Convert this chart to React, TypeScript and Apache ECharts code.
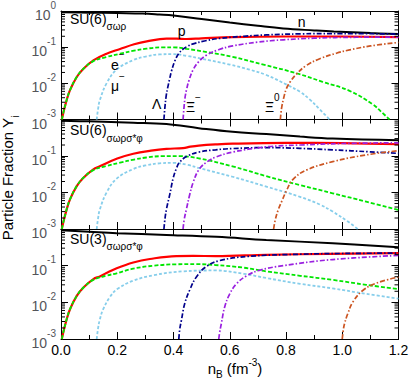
import React, { useEffect, useRef } from "react";
import * as echarts from "echarts";

const FONT = "'Liberation Sans', Arial, Helvetica, sans-serif";

// ---------- axes ----------
const xMin = 0;
const xMax = 1.2;
const xInterval = 0.2;
const yMin = 0.001;
const yMax = 1;
const yMinorTicks = [
  0.002, 0.003, 0.004, 0.005, 0.006, 0.007, 0.008, 0.009,
  0.02, 0.03, 0.04, 0.05, 0.06, 0.07, 0.08, 0.09,
  0.2, 0.3, 0.4, 0.5, 0.6, 0.7, 0.8, 0.9,
];

// ---------- panel titles ----------
const panelBase = ["SU(6)", "SU(6)", "SU(3)"];
const panelSub = ["σωρ", "σωρσ*φ", "σωρσ*φ"];

// ---------- data: top panel SU(6) σωρ ----------
const nA = [[0, 0.92], [0.1, 0.9], [0.2, 0.875], [0.29, 0.85], [0.35, 0.8], [0.4, 0.75], [0.5, 0.6], [0.6, 0.48], [0.7, 0.39], [0.79, 0.33], [0.9, 0.29], [0.97, 0.27], [1.1, 0.245], [1.2, 0.23]];
const pA = [[0.003, 0.001], [0.008, 0.0015], [0.02, 0.0034], [0.032, 0.0065], [0.056, 0.015], [0.079, 0.025], [0.115, 0.043], [0.16, 0.065], [0.21, 0.089], [0.26, 0.12], [0.305, 0.145], [0.375, 0.172], [0.41, 0.172], [0.447, 0.168], [0.5, 0.176], [0.61, 0.19], [0.8, 0.197], [1.0, 0.197], [1.2, 0.19]];
const eA = [[0.003, 0.001], [0.008, 0.0015], [0.02, 0.0034], [0.032, 0.0065], [0.056, 0.015], [0.079, 0.025], [0.115, 0.041], [0.16, 0.053], [0.21, 0.066], [0.26, 0.08], [0.304, 0.091], [0.36, 0.099], [0.4, 0.099], [0.446, 0.09], [0.52, 0.073], [0.61, 0.054], [0.72, 0.033], [0.837, 0.019], [0.93, 0.011], [1.026, 0.0062], [1.109, 0.0026], [1.14, 0.0016], [1.168, 0.001]];
const muA = [[0.127, 0.001], [0.132, 0.002], [0.138, 0.0034], [0.162, 0.01], [0.198, 0.024], [0.257, 0.044], [0.3, 0.055], [0.35, 0.063], [0.4, 0.064], [0.45, 0.057], [0.494, 0.049], [0.6, 0.033], [0.67, 0.024], [0.73, 0.017], [0.807, 0.0088], [0.85, 0.0058], [0.884, 0.0036], [0.92, 0.0019], [0.955, 0.001]];
const lamA = [[0.366, 0.001], [0.369, 0.002], [0.374, 0.0045], [0.38, 0.008], [0.386, 0.013], [0.393, 0.022], [0.405, 0.042], [0.418, 0.066], [0.434, 0.088], [0.45, 0.106], [0.47, 0.123], [0.51, 0.148], [0.564, 0.175], [0.65, 0.2], [0.73, 0.218], [0.85, 0.233], [1.0, 0.238], [1.2, 0.23]];
const ximA = [[0.434, 0.001], [0.437, 0.002], [0.441, 0.004], [0.446, 0.0065], [0.455, 0.012], [0.47, 0.024], [0.49, 0.04], [0.517, 0.06], [0.56, 0.085], [0.61, 0.108], [0.7, 0.138], [0.79, 0.16], [0.9, 0.177], [1.05, 0.188], [1.2, 0.19]];
const xi0A = [[0.78, 0.001], [0.784, 0.002], [0.792, 0.004], [0.801, 0.007], [0.815, 0.011], [0.837, 0.018], [0.872, 0.031], [0.92, 0.048], [0.979, 0.068], [1.026, 0.084], [1.1, 0.108], [1.2, 0.135]];

// ---------- data: middle panel SU(6) σωρσ*φ ----------
const nB = [[0, 0.92], [0.1, 0.89], [0.257, 0.82], [0.375, 0.75], [0.49, 0.58], [0.61, 0.46], [0.73, 0.4], [0.85, 0.34], [0.966, 0.3], [1.2, 0.27]];
const pB = [[0.003, 0.001], [0.008, 0.0015], [0.02, 0.0034], [0.032, 0.0065], [0.056, 0.015], [0.079, 0.025], [0.115, 0.043], [0.138, 0.052], [0.2, 0.085], [0.257, 0.115], [0.32, 0.14], [0.375, 0.157], [0.434, 0.165], [0.46, 0.18], [0.49, 0.193], [0.55, 0.208], [0.61, 0.218], [0.8, 0.228], [1.0, 0.225], [1.2, 0.21]];
const eB = [[0.003, 0.001], [0.008, 0.0015], [0.02, 0.0034], [0.032, 0.0065], [0.056, 0.015], [0.079, 0.025], [0.115, 0.041], [0.16, 0.053], [0.21, 0.066], [0.26, 0.08], [0.304, 0.091], [0.36, 0.099], [0.42, 0.099], [0.49, 0.086], [0.61, 0.052], [0.73, 0.028], [0.85, 0.016], [0.966, 0.0095], [1.085, 0.0056], [1.2, 0.0033]];
const muB = [[0.127, 0.001], [0.132, 0.002], [0.138, 0.0034], [0.162, 0.01], [0.198, 0.024], [0.257, 0.044], [0.3, 0.055], [0.35, 0.063], [0.4, 0.065], [0.45, 0.057], [0.49, 0.047], [0.61, 0.027], [0.73, 0.0145], [0.85, 0.0076], [0.92, 0.0047], [0.966, 0.003], [1.02, 0.0016], [1.055, 0.001]];
const lamB = [[0.366, 0.001], [0.37, 0.002], [0.375, 0.0035], [0.387, 0.009], [0.399, 0.025], [0.41, 0.045], [0.422, 0.068], [0.45, 0.1], [0.49, 0.128], [0.55, 0.148], [0.61, 0.16], [0.73, 0.17], [0.85, 0.162], [0.966, 0.147], [1.1, 0.13], [1.2, 0.118]];
const ximB = [[0.434, 0.001], [0.438, 0.0018], [0.446, 0.0035], [0.458, 0.009], [0.47, 0.019], [0.49, 0.042], [0.52, 0.07], [0.553, 0.095], [0.61, 0.128], [0.73, 0.178], [0.85, 0.2], [1.0, 0.22], [1.2, 0.23]];
const xi0B = [[0.756, 0.001], [0.762, 0.0018], [0.772, 0.0033], [0.786, 0.006], [0.801, 0.011], [0.825, 0.023], [0.872, 0.041], [0.966, 0.07], [1.085, 0.107], [1.2, 0.14]];

// ---------- data: bottom panel SU(3) σωρσ*φ ----------
const nC = [[0, 0.92], [0.1, 0.84], [0.198, 0.77], [0.375, 0.69], [0.553, 0.61], [0.73, 0.5], [0.966, 0.41], [1.2, 0.32]];
const pC = [[0.003, 0.001], [0.008, 0.0015], [0.02, 0.0034], [0.032, 0.0065], [0.056, 0.015], [0.079, 0.025], [0.115, 0.043], [0.138, 0.051], [0.16, 0.062], [0.198, 0.085], [0.257, 0.122], [0.316, 0.152], [0.41, 0.183], [0.47, 0.185], [0.55, 0.182], [0.73, 0.198], [0.95, 0.21], [1.2, 0.22]];
const eC = [[0.003, 0.001], [0.008, 0.0015], [0.02, 0.0034], [0.032, 0.0065], [0.056, 0.015], [0.079, 0.025], [0.115, 0.041], [0.16, 0.053], [0.198, 0.062], [0.257, 0.083], [0.33, 0.1], [0.41, 0.109], [0.48, 0.11], [0.55, 0.104], [0.65, 0.088], [0.73, 0.07], [0.85, 0.053], [0.966, 0.041], [1.085, 0.03], [1.2, 0.023]];
const muC = [[0.127, 0.001], [0.132, 0.002], [0.138, 0.0034], [0.15, 0.0065], [0.174, 0.014], [0.2, 0.023], [0.257, 0.039], [0.33, 0.055], [0.434, 0.07], [0.55, 0.074], [0.65, 0.06], [0.73, 0.046], [0.85, 0.032], [0.966, 0.024], [1.085, 0.017], [1.2, 0.0126]];
const lamC = [[0.419, 0.001], [0.422, 0.0018], [0.428, 0.0032], [0.44, 0.0093], [0.458, 0.022], [0.482, 0.05], [0.517, 0.095], [0.565, 0.138], [0.67, 0.18], [0.85, 0.205], [1.0, 0.215], [1.2, 0.22]];
const ximC = [[0.561, 0.001], [0.564, 0.0015], [0.57, 0.0026], [0.582, 0.0075], [0.6, 0.017], [0.624, 0.032], [0.66, 0.053], [0.706, 0.075], [0.79, 0.1], [0.966, 0.147], [1.2, 0.19]];
const xi0C = [[1.0, 0.001], [1.003, 0.0016], [1.008, 0.0026], [1.02, 0.005], [1.038, 0.0103], [1.073, 0.021], [1.12, 0.033], [1.2, 0.049]];

const panels = [
  [nA, pA, eA, muA, lamA, ximA, xi0A],
  [nB, pB, eB, muB, lamB, ximB, xi0B],
  [nC, pC, eC, muC, lamC, ximC, xi0C],
];

const speciesNames = ["n", "p", "e−", "μ−", "Λ", "Ξ−", "Ξ0"];
const speciesStyles = [
  { color: "#000000", width: 2, type: "solid" as any },
  { color: "#ff0000", width: 2.2, type: "solid" as any },
  { color: "#00e600", width: 1.8, type: [4, 2] as any },
  { color: "#87ceeb", width: 1.8, type: [3, 2] as any },
  { color: "#00008b", width: 1.7, type: [5, 2, 1.5, 2] as any },
  { color: "#9a20e0", width: 1.7, type: [5, 2, 1.5, 2] as any },
  { color: "#cc5522", width: 1.7, type: [5, 2, 1.5, 2] as any },
];

const gridTops = [10, 119.5, 229];
const gridHeights = [109.5, 109.5, 110];

function txt(text: string, x: number, y: number, rich?: any, align = "left") {
  return {
    type: "text",
    x,
    y,
    z: 100,
    style: {
      text,
      fontSize: 14,
      fontFamily: FONT,
      fill: "#000",
      align,
      verticalAlign: "middle",
      rich,
    },
  };
}

const supRich = {
  a: { fontSize: 14, fontFamily: FONT, lineHeight: 22, verticalAlign: "bottom", fill: "#000" },
  s: { fontSize: 10, fontFamily: FONT, lineHeight: 10, verticalAlign: "top", fill: "#000" },
};
const subRich = {
  a: { fontSize: 14, fontFamily: FONT, lineHeight: 20, verticalAlign: "top", fill: "#000" },
  d: { fontSize: 10, fontFamily: FONT, lineHeight: 10, verticalAlign: "bottom", fill: "#000" },
};

export default function App() {
  const ref = useRef<HTMLDivElement>(null);
  useEffect(() => {
    const chart = echarts.init(ref.current!, null, { renderer: "svg" });

    const grid: any[] = [];
    const xAxis: any[] = [];
    const yAxis: any[] = [];
    const series: any[] = [];

    for (let i = 0; i < 3; i++) {
      grid.push({ left: 61, right: 18.5, top: gridTops[i], height: gridHeights[i] });
      const isBottom = i === 2;
      for (const pos of ["bottom", "top"]) {
        xAxis.push({
          type: "value",
          gridIndex: i,
          position: pos,
          min: xMin,
          max: xMax,
          interval: xInterval,
          axisLine: { show: true, onZero: false, lineStyle: { color: "#000", width: 1 } },
          axisTick: { show: true, inside: true, length: 7, lineStyle: { color: "#000" } },
          minorTick: { show: true, splitNumber: 2, length: 4, lineStyle: { color: "#000" } },
          splitLine: { show: false },
          axisLabel: {
            show: isBottom && pos === "bottom",
            formatter: (v: number) => v.toFixed(1),
            fontSize: 14,
            fontFamily: FONT,
            color: "#000",
            margin: 4,
          },
        });
      }
      for (const pos of ["left", "right"]) {
        yAxis.push({
          type: "log",
          logBase: 10,
          gridIndex: i,
          position: pos,
          min: yMin,
          max: yMax,
          axisLine: { show: true, onZero: false, lineStyle: { color: "#000", width: 1 } },
          axisTick: { show: true, inside: true, length: 7, lineStyle: { color: "#000" } },
          splitLine: { show: false },
          axisLabel: {
            show: pos === "left",
            margin: 5,
            formatter: (v: number) => {
              const e = Math.round(Math.log10(v));
              if (e === 0 && i !== 0) return "";
              return `{a|10}{s|${e === 0 ? "0" : "-" + -e}}`;
            },
            rich: supRich,
          },
        });
      }
      panels[i].forEach((data, k) => {
        const st = speciesStyles[k];
        series.push({
          type: "line",
          name: speciesNames[k] + " " + i,
          xAxisIndex: 2 * i,
          yAxisIndex: 2 * i,
          data,
          showSymbol: false,
          symbol: "none",
          smooth: 0.4,
          lineStyle: { color: st.color, width: st.width, type: st.type },
          z: k === 1 ? 3 : 4,
        });
      });
      series.push({
        type: "custom",
        xAxisIndex: 2 * i,
        yAxisIndex: 2 * i,
        clip: false,
        silent: true,
        z: 10,
        data: yMinorTicks.map((v) => [xMin, v]),
        encode: { x: 0, y: 1 },
        renderItem: (params: any, api: any) => {
          const v = api.value(1);
          const pL = api.coord([xMin, v]);
          const pR = api.coord([xMax, v]);
          return {
            type: "group",
            children: [
              { type: "line", shape: { x1: pL[0], y1: pL[1], x2: pL[0] + 4, y2: pL[1] }, style: { stroke: "#000", lineWidth: 1 } },
              { type: "line", shape: { x1: pR[0], y1: pR[1], x2: pR[0] - 4, y2: pR[1] }, style: { stroke: "#000", lineWidth: 1 } },
            ],
          };
        },
      });
    }

    const titleYs = [21.7, 133.3, 241.7];
    const graphic: any[] = [];
    for (let i = 0; i < 3; i++) {
      graphic.push(txt(`{a|${panelBase[i]}}{d|${panelSub[i]}}`, 70, titleYs[i], subRich));
    }
    graphic.push(txt("n", 301.7, 21.7, undefined, "center"));
    graphic.push(txt("p", 181.7, 30.5, undefined, "center"));
    graphic.push(txt("{a|e}{s|−}", 111, 60.5, supRich));
    graphic.push(txt("{a|μ}{s|−}", 111, 82, supRich));
    graphic.push(txt("Λ", 156.7, 104, undefined, "center"));
    graphic.push(txt("{a|Ξ}{s|−}", 186, 103, supRich));
    graphic.push(txt("{a|Ξ}{s|0}", 265, 103, supRich));
    // axis titles
    graphic.push({
      type: "text",
      x: 10,
      y: 178,
      rotation: Math.PI / 2,
      z: 100,
      style: {
        text: "{a|Particle Fraction Y}{d|i}",
        align: "center",
        verticalAlign: "middle",
        rich: {
          a: { fontSize: 15, fontFamily: FONT, lineHeight: 20, verticalAlign: "top", fill: "#000" },
          d: { fontSize: 10, fontFamily: FONT, lineHeight: 10, verticalAlign: "bottom", fill: "#000" },
        },
      },
    });
    graphic.push({
      type: "text",
      x: 235,
      y: 368,
      z: 100,
      style: {
        text: "{a|n}{d|B}{a| (fm}{s|-3}{a|)}",
        align: "center",
        verticalAlign: "middle",
        rich: {
          a: { fontSize: 15, fontFamily: FONT, lineHeight: 22, verticalAlign: "middle", fill: "#000" },
          d: { fontSize: 10, fontFamily: FONT, lineHeight: 10, verticalAlign: "bottom", fill: "#000" },
          s: { fontSize: 10, fontFamily: FONT, lineHeight: 10, verticalAlign: "top", fill: "#000" },
        },
      },
    });

    chart.setOption({
      animation: false,
      backgroundColor: "#ffffff",
      textStyle: { fontFamily: FONT },
      grid,
      xAxis,
      yAxis,
      series,
      graphic,
    });
    return () => chart.dispose();
  }, []);
  return <div ref={ref} style={{ position: "fixed", left: 0, top: 0, width: 417, height: 383 }} />;
}
